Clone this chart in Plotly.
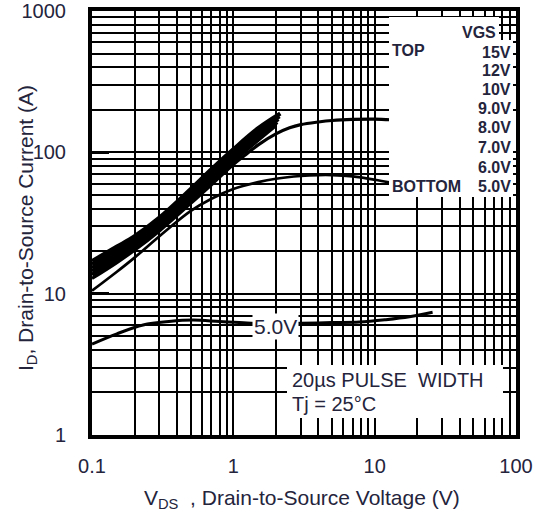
import math
import plotly.graph_objects as go

# ---------------- data ----------------
x_tick_vals = [0.1, 1, 10, 100]
x_tick_text = ["0.1", "1", "10", "100"]
y_tick_vals = [1, 10, 100, 1000]
y_tick_text = ["1", "10", "100", "1000"]

vds_15v = [0.1, 0.15, 0.2, 0.3, 0.5, 0.7, 1.0, 1.5, 2.15]
id_15v = [17.0, 21.5, 25.5, 34.5, 55.0, 76.0, 105, 148, 188]
vds_12v = [0.1, 0.15, 0.2, 0.3, 0.5, 0.7, 1.0, 1.5, 2.12]
id_12v = [16.1, 20.4, 24.3, 33.0, 52.5, 72.2, 100, 141, 180]
vds_10v = [0.1, 0.15, 0.2, 0.3, 0.5, 0.7, 1.0, 1.5, 2.08]
id_10v = [15.2, 19.3, 23.2, 31.6, 50.0, 68.6, 95.3, 135, 172]
vds_9v = [0.1, 0.15, 0.2, 0.3, 0.5, 0.7, 1.0, 1.5, 2.04]
id_9v = [14.4, 18.3, 22.1, 30.2, 47.7, 65.2, 90.8, 129, 164]
vds_8v = [0.1, 0.15, 0.2, 0.3, 0.5, 0.7, 1.0, 1.5, 2.0]
id_8v = [13.6, 17.4, 21.1, 28.9, 45.5, 62.0, 86.5, 123, 156]
vds_7v = [0.1, 0.15, 0.2, 0.3, 0.5, 0.7, 1.0, 1.2, 1.5, 2.0, 2.5, 3.0, 4.0, 5.0, 7.0, 10.0, 13.0]
id_7v = [12.8, 16.6, 20.3, 27.8, 43.5, 59.0, 82.0, 95.0, 113, 135, 149, 157, 164, 168, 171, 172, 170]
vds_6v = [0.1, 0.15, 0.2, 0.3, 0.5, 0.7, 1.0, 1.5, 2.0, 3.0, 4.0, 5.0, 7.0, 10.0, 13.0]
id_6v = [10.5, 14.3, 18.0, 25.5, 38.5, 47.0, 55.0, 61.5, 65.0, 68.0, 69.0, 69.0, 67.5, 64.0, 61.0]
vds_5v = [0.1, 0.15, 0.23, 0.35, 0.52, 0.8, 1.25, 2.0, 3.0, 5.0, 7.8, 12.0, 17.6, 25.7]
id_5v = [4.4, 5.2, 6.0, 6.35, 6.5, 6.35, 6.2, 6.15, 6.17, 6.25, 6.3, 6.55, 6.87, 7.38]

vgs_labels = ["15V", "12V", "10V", "9.0V", "8.0V", "7.0V", "6.0V", "5.0V"]
curve_label = "5.0V"
curve_label_pos = (2.0, 5.84)

series = [
    (vds_15v, id_15v), (vds_12v, id_12v), (vds_10v, id_10v), (vds_9v, id_9v),
    (vds_8v, id_8v), (vds_7v, id_7v), (vds_6v, id_6v), (vds_5v, id_5v),
]
line_widths = [4.2, 4.2, 4.2, 4.2, 4.2, 3.2, 2.7, 3.0]

# ---------------- figure ----------------
W, H = 535, 523
L, R, T, B = 92, 19, 11, 88
PW, PH = W - L - R, H - T - B
TXT = "#24243c"
FONT = "Liberation Sans, Arial, sans-serif"


def px(x):
    return (x - L) / PW


def py(y):
    return (H - B - y) / PH


fig = go.Figure()
for (xs, ys), name, lw in zip(series, vgs_labels, line_widths):
    fig.add_trace(go.Scatter(x=xs, y=ys, mode="lines", name=name,
                             line=dict(color="black", width=lw, shape="spline"),
                             showlegend=False, hoverinfo="skip"))

minor_x = [m * 10 ** e for e in range(-1, 2) for m in range(2, 10)]
minor_y = [m * 10 ** e for e in range(0, 3) for m in range(2, 10)]

axis_common = dict(
    type="log", showline=True, linewidth=4, linecolor="black", mirror=True,
    showgrid=True, gridcolor="black", gridwidth=1.6, zeroline=False, automargin=False,
    tickfont=dict(family=FONT, size=20, color=TXT), tickmode="array",
)
fig.update_xaxes(**axis_common, range=[-1, 2], tickvals=x_tick_vals, ticktext=x_tick_text,
                 ticks="", ticklabelstandoff=10,
                 minor=dict(tickvals=minor_x, showgrid=True, gridcolor="black", gridwidth=1.6, ticks=""))
fig.update_yaxes(**axis_common, range=[0, 3], tickvals=y_tick_vals, ticktext=y_tick_text,
                 ticks="inside", ticklen=17, tickwidth=3, tickcolor="black", ticklabelstandoff=18,
                 minor=dict(tickvals=minor_y, showgrid=True, gridcolor="black", gridwidth=1.6, ticks=""))

shapes = [
    dict(type="rect", xref="paper", yref="paper", x0=px(389), x1=px(513), y0=py(197), y1=py(40),
         fillcolor="white", line=dict(width=0), layer="above"),
    dict(type="rect", xref="paper", yref="paper", x0=px(389), x1=px(499), y0=py(40), y1=py(17),
         fillcolor="white", line=dict(width=0), layer="above"),
    dict(type="rect", xref="paper", yref="paper", x0=px(287), x1=px(503), y0=py(418), y1=py(365),
         fillcolor="white", line=dict(width=0), layer="above"),
]

ann = []
lf = dict(family=FONT, size=16, color=TXT)
ann.append(dict(x=px(498), y=py(32), xref="paper", yref="paper", text="<b>VGS</b>",
                xanchor="right", yanchor="middle", showarrow=False, font=lf))
ann.append(dict(x=px(390), y=py(51), xref="paper", yref="paper", text="<b>TOP</b>",
                xanchor="left", yanchor="middle", showarrow=False, font=lf))
ann.append(dict(x=px(390), y=py(186), xref="paper", yref="paper", text="<b>BOTTOM</b>",
                xanchor="left", yanchor="middle", showarrow=False, font=lf))
label_y = [52, 70, 89, 108.5, 128, 148, 168, 186]
for lab, yy in zip(vgs_labels, label_y):
    ann.append(dict(x=px(513), y=py(yy), xref="paper", yref="paper", text=f"<b>{lab}</b>",
                    xanchor="right", yanchor="middle", showarrow=False, font=lf))

af = dict(family=FONT, size=20, color=TXT)
ann.append(dict(x=px(290), y=py(380), xref="paper", yref="paper", text="20\u00b5s PULSE&nbsp; WIDTH",
                xanchor="left", yanchor="middle", showarrow=False, font=af))
ann.append(dict(x=px(290), y=py(404), xref="paper", yref="paper", text="Tj = 25\u00b0C",
                xanchor="left", yanchor="middle", showarrow=False, font=af))
ann.append(dict(x=math.log10(curve_label_pos[0]), y=math.log10(curve_label_pos[1]), xref="x", yref="y",
                text=curve_label, showarrow=False, font=dict(family=FONT, size=21, color=TXT),
                bgcolor="white", borderpad=1))

tf = dict(family=FONT, size=21, color=TXT)
ann.append(dict(x=px(302), y=py(499), xref="paper", yref="paper",
                text="V<sub>DS</sub>&nbsp; , Drain-to-Source Voltage (V)",
                xanchor="center", yanchor="middle", showarrow=False, font=tf))
ann.append(dict(x=px(27), y=py(228), xref="paper", yref="paper",
                text="I<sub>D</sub>, Drain-to-Source Current (A)", textangle=-90,
                xanchor="center", yanchor="middle", showarrow=False, font=tf))

fig.update_layout(
    width=W, height=H, margin=dict(l=L, r=R, t=T, b=B, autoexpand=False),
    paper_bgcolor="white", plot_bgcolor="white",
    shapes=shapes, annotations=ann, showlegend=False,
)

fig.write_html("out.html", config={"displayModeBar": False},
               post_script="document.body.style.margin='0';")
